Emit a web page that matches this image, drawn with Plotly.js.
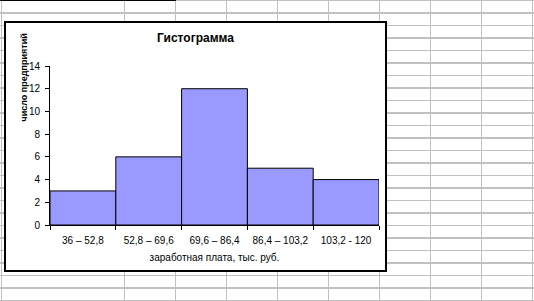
<!DOCTYPE html>
<html>
<head>
<meta charset="utf-8">
<script src="https://cdn.plot.ly/plotly-3.0.1.min.js"></script>
<style>
  html, body { margin: 0; padding: 0; }
  body {
    width: 534px; height: 301px; overflow: hidden; position: relative;
    background-color: #ffffff;
  }
  #grid-h {
    position: absolute; left: 0; top: 0; width: 534px; height: 301px;
    background-image: repeating-linear-gradient(to bottom, #c0c0c0 0px, #c0c0c0 1px, transparent 1px, transparent 12.5px);
    background-position: 0 0;
  }
  #grid-v {
    position: absolute; left: 124px; top: 0; width: 420px; height: 301px;
    background-image: repeating-linear-gradient(to right, #c0c0c0 0px, #c0c0c0 1px, transparent 1px, transparent 51px);
  }
  #grid-v0 { position: absolute; left: 1px; top: 0; width: 1px; height: 301px; background: #c0c0c0; }
  #topline { position: absolute; left: 0; top: 0; width: 176px; height: 1px; background: #000; }
  #chart {
    position: absolute; left: 4px; top: 21px; width: 383px; height: 251px;
    box-sizing: border-box; border: 2px solid #000; background: #fff;
  }
</style>
</head>
<body>
<div id="grid-h"></div>
<div id="grid-v"></div>
<div id="grid-v0"></div>
<div id="topline"></div>
<div id="chart"></div>
<script>
const categories = ["36 – 52,8", "52,8 – 69,6", "69,6 – 86,4", "86,4 – 103,2", "103,2 - 120"];
const counts = [3, 6, 12, 5, 4];
const chartTitle = "Гистограмма";
const xTitle = "заработная плата, тыс. руб.";
const yTitle = "число предприятий";

const font = "Liberation Sans, Arial, sans-serif";

const trace = {
  type: "bar",
  x: categories,
  y: counts,
  marker: { color: "#9999FF", line: { color: "#000000", width: 1 } },
  hoverinfo: "skip"
};

const layout = {
  width: 379, height: 247,
  margin: { l: 44, r: 6, t: 43, b: 45, pad: 0 },
  paper_bgcolor: "#ffffff", plot_bgcolor: "#ffffff",
  font: { family: font, size: 10, color: "#000000" },
  showlegend: false,
  bargap: 0,
  title: {
    text: chartTitle,
    font: { family: font, size: 12, color: "#000000", weight: "bold" },
    xref: "container", x: 0.5, xanchor: "center",
    yref: "container", y: 0.9405, yanchor: "middle"
  },
  xaxis: {
    type: "category",
    showline: true, linecolor: "#000000", linewidth: 1,
    ticks: "outside", tickson: "boundaries", ticklen: 4, tickcolor: "#000000", tickwidth: 1,
    ticklabelstandoff: 6,
    showgrid: false, zeroline: false,
    tickfont: { family: font, size: 10, color: "#000000" },
    title: { text: xTitle, font: { family: font, size: 10, color: "#000000" }, standoff: 8 },
    fixedrange: true
  },
  yaxis: {
    range: [0, 14], dtick: 2, tick0: 0,
    showline: true, linecolor: "#000000", linewidth: 1,
    ticks: "outside", ticklen: 4, tickcolor: "#000000", tickwidth: 1,
    ticklabelstandoff: 3,
    showgrid: false, zeroline: false,
    tickfont: { family: font, size: 10, color: "#000000" },
    fixedrange: true
  },
  annotations: [{
    text: "<b>" + yTitle + "</b>",
    xref: "paper", yref: "paper",
    x: -0.0775, y: 0.9245, xanchor: "center", yanchor: "middle",
    textangle: -90, showarrow: false,
    font: { family: font, size: 9, color: "#000000" }
  }]
};

Plotly.newPlot("chart", [trace], layout, { staticPlot: true, displayModeBar: false });
</script>
</body>
</html>
